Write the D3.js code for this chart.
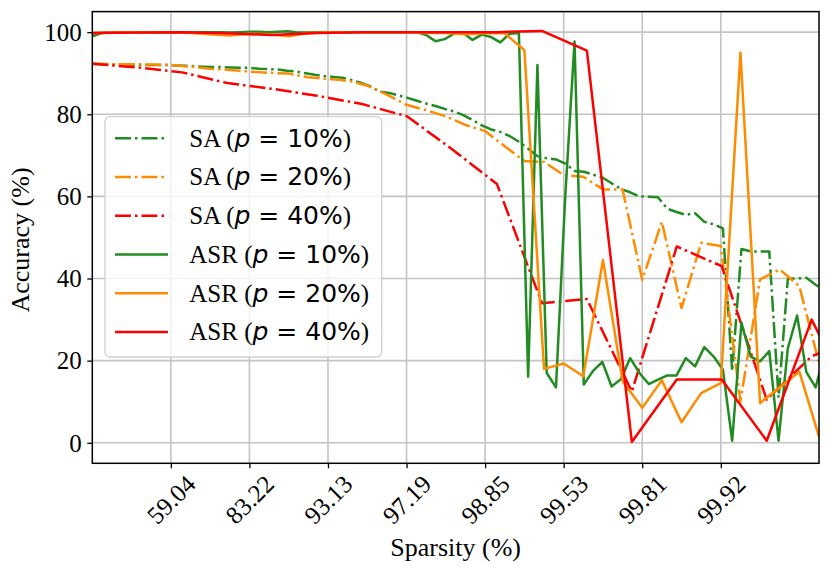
<!DOCTYPE html>
<html>
<head>
<meta charset="utf-8">
<script src="https://cdn.jsdelivr.net/npm/d3@7"></script>
<style>
  body { margin: 0; background: #fff; }
  svg { display: block; }
</style>
</head>
<body>
<div id="vis"></div>
<script>
var margin = { top: 11.6, right: 12, bottom: 111.7, left: 92.3 },
    width = 831 - margin.left - margin.right,
    height = 575 - margin.top - margin.bottom;

// pruning rate per round (%) of each run
const pruneRates = [10, 20, 40];

// accuracy per pruning round
const saP10 = [
  92.3, 92.2, 92.2, 92.1, 92.1, 92.0, 92.0, 92.0, 92.0, 91.9,
  91.8, 91.7, 91.6, 91.5, 91.5, 91.4, 91.3, 91.3, 91.1, 91.0,
  90.9, 90.6, 90.4, 90.0, 89.6, 89.3, 89.1, 88.9, 88.3, 87.6,
  86.8, 85.5, 85.2, 84.6, 84.0, 83.3, 82.6, 82.0, 81.3, 80.7,
  79.8, 78.6, 77.3, 76.3, 75.7, 74.7, 73.3, 71.6, 69.8, 69.3,
  69.0, 68.0, 66.2, 66.0, 65.3, 64.6, 63.2, 61.8, 61.0, 60.0,
  59.9, 59.8, 57.0, 56.2, 55.5, 55.9, 53.8, 53.2, 52.2, 17.5,
  47.2, 46.6, 46.6, 46.6, 11.0, 39.9, 40.0, 40.2, 38.5, 37.0
];
const asrP10 = [
  99.0, 99.8, 99.9, 100, 100, 100, 99.9, 100, 100, 100,
  100, 99.9, 100, 100, 100, 99.9, 100, 100.1, 100.1, 100,
  100.1, 100.2, 100, 99.9, 100, 100, 100, 99.9, 100, 100,
  100, 100, 100, 100, 100, 100, 99.3, 97.8, 98.3, 99.6,
  99.8, 98.1, 99.4, 98.8, 97.5, 99.6, 99.8, 16.1, 92.0, 17.0,
  13.5, 60.0, 97.7, 14.2, 17.5, 19.7, 13.7, 15.5, 20.6, 17.0,
  14.3, 15.4, 16.4, 16.4, 20.6, 18.6, 23.3, 21.0, 17.8, 0.5,
  29.2, 21.0, 19.8, 22.3, 0.5, 23.0, 31.0, 17.2, 13.5, 22.0
];
const saP20 = [
  92.3, 92.2, 92.2, 92.1, 92.0, 91.6, 91.1, 90.8, 90.4, 90.1,
  89.9, 89.0, 88.6, 88.2, 87.0, 84.8, 82.3, 81.0, 79.5, 77.4,
  75.9, 72.2, 68.6, 68.4, 65.2, 64.8, 61.7, 61.7, 39.7, 53.8,
  32.8, 48.7, 47.9, 10.1, 39.8, 42.2, 38.1, 19.5
];
const asrP20 = [
  99.7, 99.9, 100, 100, 100, 99.8, 99.5, 99.2, 99.6, 99.5,
  99.0, 99.8, 100, 100, 100, 100, 100, 99.8, 99.8, 99.5,
  99.7, 99.7, 95.6, 18.0, 19.3, 16.2, 44.5, 15.0, 8.5, 15.2,
  5.0, 12.1, 14.5, 95.0, 9.7, 13.5, 17.3, 1.5
];
const saP40 = [
  92.3, 91.4, 90.2, 87.6, 86.2, 84.5, 82.5, 79.5, 71.5, 63.0,
  34.0, 35.0, 12.5, 47.8, 43.0, 10.5, 21.1, 25.0
];
const asrP40 = [
  99.8, 99.9, 100, 99.7, 99.3, 99.8, 100, 100, 100, 100,
  100.3, 95.5, 0.2, 15.4, 15.4, 0.5, 30.0, 8.0
];

// x ticks sit every 4 rounds of 20% pruning
const tickRounds = [4, 8, 12, 16, 20, 24, 28, 32];
const tickLabels = ["59.04", "83.22", "93.13", "97.19", "98.85", "99.53", "99.81", "99.92"];
const yTicks = [0, 20, 40, 60, 80, 100];

const colors = ["#228B22", "#FF8C00", "#FF0000"];
const serif = "'Liberation Serif', 'Times New Roman', serif";
const mathFont = "'DejaVu Sans', sans-serif";

const series = [
  { kind: "SA",  rate: pruneRates[0], values: saP10,  color: colors[0], dash: "16,4,2.5,4" },
  { kind: "SA",  rate: pruneRates[1], values: saP20,  color: colors[1], dash: "16,4,2.5,4" },
  { kind: "SA",  rate: pruneRates[2], values: saP40,  color: colors[2], dash: "16,4,2.5,4" },
  { kind: "ASR", rate: pruneRates[0], values: asrP10, color: colors[0], dash: null },
  { kind: "ASR", rate: pruneRates[1], values: asrP20, color: colors[1], dash: null },
  { kind: "ASR", rate: pruneRates[2], values: asrP40, color: colors[2], dash: null }
];

// position along x = remaining weights on a log scale, expressed in 20%-rounds
function toRounds(n, rate) {
  return n * Math.log(1 - rate / 100) / Math.log(0.8);
}

const x = d3.scaleLinear().domain([0, 37]).range([0, width]);
const y = d3.scaleLinear().domain([-5, 105]).range([height, 0]);

const svg = d3.select("#vis")
    .append("svg")
    .attr("width", width + margin.left + margin.right)
    .attr("height", height + margin.top + margin.bottom)
    .append("g")
    .attr("transform", `translate(${margin.left}, ${margin.top})`);

svg.append("clipPath").attr("id", "plotClip")
    .append("rect").attr("width", width).attr("height", height);

// grid
svg.append("g").selectAll("line")
    .data(tickRounds)
    .join("line")
    .attr("x1", d => x(d)).attr("x2", d => x(d))
    .attr("y1", 0).attr("y2", height)
    .attr("stroke", "#c4c4c4").attr("stroke-width", 1.6);
svg.append("g").selectAll("line")
    .data(yTicks)
    .join("line")
    .attr("x1", 0).attr("x2", width)
    .attr("y1", d => y(d)).attr("y2", d => y(d))
    .attr("stroke", "#c4c4c4").attr("stroke-width", 1.6);

// lines
const line = d3.line()
    .x(d => x(d.r))
    .y(d => y(d.v));

const plot = svg.append("g").attr("clip-path", "url(#plotClip)");
series.forEach(s => {
    const pts = s.values.map((v, i) => ({ r: toRounds(i, s.rate), v: v }));
    plot.append("path")
        .datum(pts)
        .attr("d", line)
        .attr("fill", "none")
        .attr("stroke", s.color)
        .attr("stroke-width", 2.5)
        .attr("stroke-linejoin", "round")
        .attr("stroke-dasharray", s.dash);
});

// axes
const xAxis = svg.append("g")
    .attr("transform", `translate(0, ${height})`)
    .call(d3.axisBottom(x).tickValues(tickRounds).tickSize(5).tickFormat(""));
xAxis.select(".domain").remove();
xAxis.selectAll(".tick line").attr("stroke", "#000").attr("stroke-width", 1.3);
xAxis.selectAll(".tick")
    .append("text")
    .attr("transform", "translate(0, 36.5) rotate(-45)")
    .attr("text-anchor", "middle")
    .attr("dy", "0.33em")
    .attr("fill", "#000")
    .style("font-family", serif)
    .style("font-size", "25px")
    .text((d, i) => tickLabels[i]);

const yAxis = svg.append("g")
    .call(d3.axisLeft(y).tickValues(yTicks).tickSize(5).tickPadding(5.6));
yAxis.select(".domain").remove();
yAxis.selectAll(".tick line").attr("stroke", "#000").attr("stroke-width", 1.3);
yAxis.selectAll(".tick text")
    .attr("dy", "0.33em")
    .attr("fill", "#000")
    .style("font-family", serif)
    .style("font-size", "25px");

// frame
svg.append("rect")
    .attr("width", width).attr("height", height)
    .attr("fill", "none").attr("stroke", "#000").attr("stroke-width", 1.5);

// axis titles
svg.append("text")
    .attr("x", width / 2).attr("y", 556.5 - margin.top)
    .attr("text-anchor", "middle")
    .style("font-family", serif).style("font-size", "26px")
    .text("Sparsity (%)");
svg.append("text")
    .attr("transform", `translate(${29 - margin.left}, ${240 - margin.top}) rotate(-90)`)
    .attr("text-anchor", "middle")
    .style("font-family", serif).style("font-size", "26px")
    .text("Accuracy (%)");

// legend
const legend = svg.append("g")
    .attr("transform", `translate(${105 - margin.left}, ${116.7 - margin.top})`);
legend.append("rect")
    .attr("width", 276.7).attr("height", 240.3)
    .attr("rx", 5)
    .attr("fill", "#fff").attr("fill-opacity", 0.8)
    .attr("stroke", "#d0d0d0").attr("stroke-width", 1.3);

const rows = legend.selectAll("g.row")
    .data(series)
    .join("g")
    .attr("class", "row")
    .attr("transform", (d, i) => `translate(0, ${21.6 + i * 38.75})`);
rows.append("line")
    .attr("x1", 10).attr("x2", 63)
    .attr("stroke", d => d.color)
    .attr("stroke-width", 2.5)
    .attr("stroke-dasharray", d => d.dash);
const label = rows.append("text")
    .attr("x", 84.3)
    .attr("dy", "0.33em")
    .style("font-family", serif)
    .style("font-size", "25px")
    .style("white-space", "pre");
label.append("tspan").text(d => d.kind + " (");
label.append("tspan").style("font-family", mathFont).style("font-style", "italic").text("p");
label.append("tspan").style("font-family", mathFont).text(d => " = " + d.rate + "%");
label.append("tspan").text(")");
</script>
</body>
</html>
